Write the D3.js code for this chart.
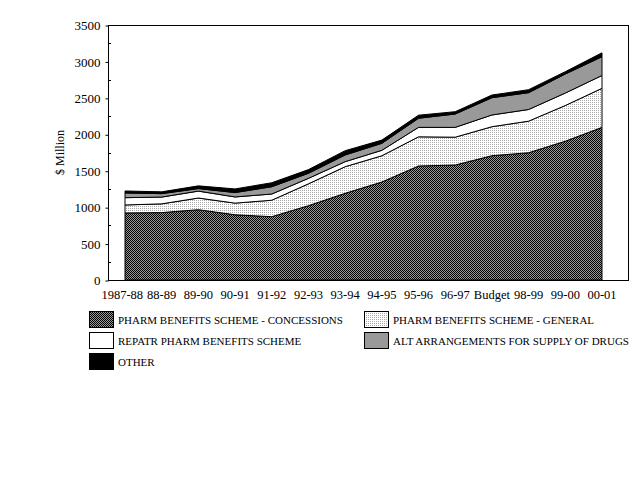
<!DOCTYPE html>
<html>
<head>
<meta charset="utf-8">
<script src="https://cdn.jsdelivr.net/npm/d3@7"></script>
<style>
  body { margin: 0; background: white; }
  text { font-family: "Liberation Serif", "DejaVu Serif", serif; fill: black; }
</style>
</head>
<body>
<div id="container"></div>
<script>
let w = 640;
let h = 480;

// categories and series ($ million)
let years = ["1987-88","88-89","89-90","90-91","91-92","92-93","93-94","94-95","95-96","96-97","Budget","98-99","99-00","00-01"];
let concessions = [920, 925, 965, 895, 869, 1020, 1190, 1345, 1565, 1578, 1706, 1747, 1905, 2095];
let general     = [110, 120, 160, 160, 226, 300, 365, 360, 400, 382, 398, 433, 490, 536];
let repatr      = [100, 93, 95, 85, 85, 75, 69, 75, 130, 135, 161, 160, 171, 176];
let altSupply   = [65, 47, 35, 60, 100, 70, 92, 96, 125, 183, 237, 231, 261, 258];
let other       = [27, 25, 37, 50, 55, 50, 59, 44, 42, 32, 37, 41, 33, 53];
let yTicks = [0, 500, 1000, 1500, 2000, 2500, 3000, 3500];

let seriesNames = ["PHARM BENEFITS SCHEME - CONCESSIONS", "PHARM BENEFITS SCHEME - GENERAL",
  "REPATR PHARM BENEFITS SCHEME", "ALT ARRANGEMENTS FOR SUPPLY OF DRUGS", "OTHER"];
let keys = ["conc", "gen", "repatr", "alt", "other"];
let fills = ["url(#checker)", "url(#dots)", "white", "#999999", "black"];

let table = years.map((y, i) => ({
  year: y, conc: concessions[i], gen: general[i], repatr: repatr[i], alt: altSupply[i], other: other[i]
}));

let viz = d3.select("#container").append("svg")
    .attr("width", w)
    .attr("height", h)
    .style("background-color", "white");

// fill patterns
let defs = viz.append("defs");
let checker = defs.append("pattern").attr("id", "checker")
    .attr("patternUnits", "userSpaceOnUse").attr("width", 2).attr("height", 2);
checker.append("rect").attr("width", 2).attr("height", 2).attr("fill", "#999999");
checker.append("rect").attr("x", 0).attr("y", 0).attr("width", 1).attr("height", 1).attr("fill", "black");
checker.append("rect").attr("x", 1).attr("y", 1).attr("width", 1).attr("height", 1).attr("fill", "black");
let dots = defs.append("pattern").attr("id", "dots")
    .attr("patternUnits", "userSpaceOnUse").attr("width", 2).attr("height", 2);
dots.append("rect").attr("width", 2).attr("height", 2).attr("fill", "white");
dots.append("rect").attr("x", 0).attr("y", 0).attr("width", 1).attr("height", 1).attr("fill", "#a8a8a8");

// scales
let frame = {left: 108, top: 25, right: 628, bottom: 280};
let xScale = d3.scalePoint().domain(years).range([125, 602]);
let yScale = d3.scaleLinear().domain([0, 3500]).range([frame.bottom, frame.top]);

let stacked = d3.stack().keys(keys)(table);
let area = d3.area()
    .x(d => xScale(d.data.year))
    .y0(d => yScale(d[0]))
    .y1(d => yScale(d[1]));

viz.append("g").attr("class", "areas")
  .selectAll("path").data(stacked).enter()
  .append("path")
    .attr("d", area)
    .attr("fill", (d, i) => fills[i])
    .attr("stroke", "black")
    .attr("stroke-width", 1);

// frame
viz.append("rect")
    .attr("x", frame.left + 0.5).attr("y", frame.top + 0.5)
    .attr("width", frame.right - frame.left).attr("height", frame.bottom - frame.top)
    .attr("fill", "none").attr("stroke", "black");

// y axis, major ticks outward
let yAxis = d3.axisLeft(yScale).tickValues(yTicks).tickFormat(d3.format("d")).tickSize(3).tickPadding(5);
let yAxisGroup = viz.append("g")
    .attr("class", "yaxisgroup")
    .attr("transform", "translate(" + (frame.left + 0.5) + ",0.5)")
    .call(yAxis);
yAxisGroup.select("path").attr("display", "none");
yAxisGroup.selectAll("text").style("font-size", "13px")
    .style("font-family", "'Liberation Serif', serif");

// minor ticks inward
let minor = d3.range(250, 3500, 500);
viz.append("g").selectAll("line").data(minor).enter()
  .append("line")
    .attr("x1", frame.left).attr("x2", frame.left + 3)
    .attr("y1", d => Math.round(yScale(d)) + 0.5).attr("y2", d => Math.round(yScale(d)) + 0.5)
    .attr("stroke", "black");

// x labels
let xLabels = viz.append("g").selectAll("text").data(years).enter()
  .append("text")
    .attr("x", d => xScale(d))
    .attr("y", 299)
    .attr("text-anchor", "middle")
    .style("font-size", "12.5px")
    .text(d => d);

// keep the long first label clear of its neighbour
let nodes = xLabels.nodes();
let b0 = nodes[0].getBBox(), b1 = nodes[1].getBBox();
if (b0.x + b0.width > b1.x - 4) {
  let shift = b0.x + b0.width - (b1.x - 4);
  d3.select(nodes[0]).attr("x", xScale(years[0]) - shift);
}

// y title
viz.append("text")
    .attr("transform", "translate(64," + yScale(1750) + ") rotate(-90)")
    .attr("text-anchor", "middle")
    .style("font-size", "12px")
    .text("$ Million");

// legend
let legendPos = [[89, 311], [364, 311], [89, 332], [364, 332], [89, 353]];
let legend = viz.append("g").attr("class", "legend")
  .selectAll("g").data(seriesNames).enter()
  .append("g")
    .attr("transform", (d, i) => "translate(" + legendPos[i][0] + "," + legendPos[i][1] + ")");
legend.append("rect")
    .attr("x", 0.5).attr("y", 0.5).attr("width", 24).attr("height", 16)
    .attr("fill", (d, i) => fills[i])
    .attr("stroke", "black");
legend.append("text")
    .attr("x", 29).attr("y", 13)
    .style("font-size", "11px")
    .text(d => d);
</script>
</body>
</html>
